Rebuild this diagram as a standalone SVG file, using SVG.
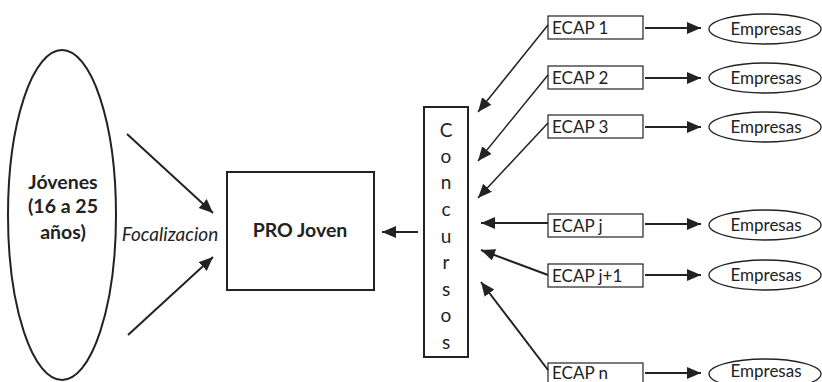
<svg xmlns="http://www.w3.org/2000/svg" width="822" height="382" viewBox="0 0 822 382">
<style>
text{font-family:Lato,"Liberation Sans",sans-serif;fill:#222}
.big{fill:none;stroke:#222;stroke-width:2}
.small{fill:#fff;stroke:#222;stroke-width:1.2}
.e{fill:#fff;stroke:#222;stroke-width:1.3}
.c line{stroke:#222;stroke-width:2}
.bold{font-weight:bold;font-size:19.5px}
.lbl{font-size:17px}
.cc{font-size:19px}
</style>
<defs>
<marker id="ah" markerUnits="userSpaceOnUse" markerWidth="16" markerHeight="14" refX="14" refY="6" orient="auto">
<path d="M0,0 L14,6 L0,12 z" fill="#222"/>
</marker>
</defs>
<rect width="822" height="382" fill="#fff"/>
<g id="jovenes">
<ellipse cx="62" cy="215" rx="54" ry="165" class="big"/>
<text class="bold" x="63" y="189" text-anchor="middle">Jóvenes</text>
<text class="bold" x="63" y="213" text-anchor="middle">(16 a 25</text>
<text class="bold" x="63" y="239" text-anchor="middle">años)</text>
</g>
<g id="focalizacion">
<text x="170" y="241" text-anchor="middle" style="font-style:italic;font-size:19px">Focalizacion</text>
</g>
<g id="projoven">
<rect x="227" y="172" width="147" height="118" class="big"/>
<text class="bold" x="300" y="237" text-anchor="middle">PRO Joven</text>
</g>
<g id="concursos">
<rect x="424" y="107" width="44" height="250" class="big"/>
<g class="cc" text-anchor="middle">
<text x="446" y="137">C</text>
<text x="446" y="163">o</text>
<text x="446" y="189">n</text>
<text x="446" y="216">c</text>
<text x="446" y="243">u</text>
<text x="446" y="269">r</text>
<text x="446" y="296">s</text>
<text x="446" y="322">o</text>
<text x="446" y="349">s</text>
</g>
</g>
<g id="ecap1"><rect x="548" y="16" width="95" height="23" class="small"/><text class="lbl" x="552" y="34">ECAP 1</text></g>
<g id="ecap2"><rect x="548" y="66" width="95" height="23" class="small"/><text class="lbl" x="552" y="84">ECAP 2</text></g>
<g id="ecap3"><rect x="548" y="115" width="95" height="23" class="small"/><text class="lbl" x="552" y="133">ECAP 3</text></g>
<g id="ecapj"><rect x="548" y="214" width="95" height="23" class="small"/><text class="lbl" x="552" y="232">ECAP j</text></g>
<g id="ecapj1"><rect x="548" y="264" width="95" height="23" class="small"/><text class="lbl" x="552" y="282">ECAP j+1</text></g>
<g id="ecapn"><rect x="548" y="363" width="95" height="23" class="small"/><text class="lbl" x="552" y="379">ECAP n</text></g>
<g id="emp1"><ellipse cx="765" cy="29" rx="56" ry="15" class="e"/><text class="lbl" x="766" y="35" text-anchor="middle">Empresas</text></g>
<g id="emp2"><ellipse cx="765" cy="78" rx="56" ry="15" class="e"/><text class="lbl" x="766" y="84" text-anchor="middle">Empresas</text></g>
<g id="emp3"><ellipse cx="765" cy="127" rx="56" ry="15" class="e"/><text class="lbl" x="766" y="133" text-anchor="middle">Empresas</text></g>
<g id="empj"><ellipse cx="765" cy="225" rx="56" ry="15" class="e"/><text class="lbl" x="766" y="231" text-anchor="middle">Empresas</text></g>
<g id="empj1"><ellipse cx="765" cy="275" rx="56" ry="15" class="e"/><text class="lbl" x="766" y="281" text-anchor="middle">Empresas</text></g>
<g id="empn"><ellipse cx="765" cy="374" rx="56" ry="15" class="e"/><text class="lbl" x="766" y="377" text-anchor="middle">Empresas</text></g>
<g id="connectors" class="c">
<line x1="127" y1="134" x2="213" y2="213" marker-end="url(#ah)"/>
<line x1="128" y1="335" x2="213" y2="257" marker-end="url(#ah)"/>
<line x1="418" y1="232" x2="382" y2="232" marker-end="url(#ah)"/>
<line x1="548" y1="25" x2="478" y2="112" marker-end="url(#ah)" style="stroke-width:1.5"/>
<line x1="548" y1="75" x2="478" y2="161" marker-end="url(#ah)" style="stroke-width:1.5"/>
<line x1="548" y1="123" x2="478" y2="198" marker-end="url(#ah)" style="stroke-width:1.5"/>
<line x1="548" y1="223" x2="481" y2="223" marker-end="url(#ah)"/>
<line x1="548" y1="275" x2="481" y2="250" marker-end="url(#ah)"/>
<line x1="548" y1="370" x2="481" y2="282" marker-end="url(#ah)"/>
<line x1="645" y1="28" x2="701" y2="28" marker-end="url(#ah)"/>
<line x1="645" y1="78" x2="701" y2="78" marker-end="url(#ah)"/>
<line x1="645" y1="127" x2="701" y2="127" marker-end="url(#ah)"/>
<line x1="645" y1="224" x2="701" y2="224" marker-end="url(#ah)"/>
<line x1="645" y1="275" x2="701" y2="275" marker-end="url(#ah)"/>
<line x1="645" y1="373" x2="701" y2="373" marker-end="url(#ah)"/>
</g>
</svg>
